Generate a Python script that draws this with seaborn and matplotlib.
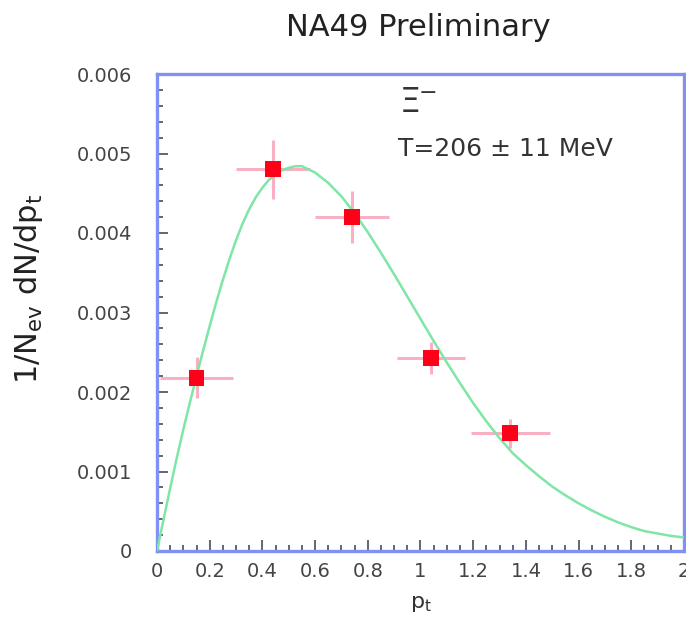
import numpy as np
import pandas as pd
import matplotlib
matplotlib.use("Agg")
import matplotlib.pyplot as plt
from matplotlib.ticker import MultipleLocator
import seaborn as sns

# ---- data ----
pt_points = [0.15, 0.44, 0.74, 1.04, 1.34]
dn_points = [0.00218, 0.00480, 0.00420, 0.00243, 0.00148]
pt_err = [0.14, 0.14, 0.14, 0.13, 0.15]
dn_err = [0.00026, 0.00037, 0.00033, 0.00020, 0.00018]

# fitted curve
fit_pt = [0.0, 0.025, 0.05, 0.075, 0.1, 0.125, 0.15, 0.175, 0.2, 0.225, 0.25,
          0.275, 0.3, 0.325, 0.35, 0.375, 0.4, 0.425, 0.45, 0.475, 0.5, 0.525,
          0.55, 0.6, 0.65, 0.7, 0.75, 0.8, 0.85, 0.9, 0.95, 1.0, 1.05, 1.1, 1.15,
          1.2, 1.25, 1.3, 1.35, 1.4, 1.45, 1.5, 1.55, 1.6, 1.65, 1.7, 1.75, 1.8,
          1.85, 1.9, 1.95, 2.0]
fit_dn = [0.0, 0.00040, 0.00079, 0.00117, 0.00153, 0.00187, 0.00220, 0.00252,
          0.00283, 0.00313, 0.00341, 0.00367, 0.00391, 0.00412, 0.00430, 0.00445,
          0.00457, 0.00467, 0.00474, 0.00479, 0.00482, 0.00484, 0.00484, 0.00476,
          0.00463, 0.00446, 0.00425, 0.00401, 0.00375, 0.00348, 0.00320, 0.00292,
          0.00264, 0.00237, 0.00211, 0.00186, 0.00163, 0.00142, 0.00123, 0.00108,
          0.00094, 0.00081, 0.00070, 0.00060, 0.00051, 0.00043, 0.00036, 0.00030,
          0.00025, 0.00022, 0.00019, 0.00017]

x_ticks = [0, 0.2, 0.4, 0.6, 0.8, 1.0, 1.2, 1.4, 1.6, 1.8, 2.0]
x_labels = ["0", "0.2", "0.4", "0.6", "0.8", "1", "1.2", "1.4", "1.6", "1.8", "2"]
y_ticks = [0, 0.001, 0.002, 0.003, 0.004, 0.005, 0.006]
y_labels = ["0", "0.001", "0.002", "0.003", "0.004", "0.005", "0.006"]

sns.set_style("ticks")
plt.rcParams["font.family"] = ["DejaVu Sans"]

fig = plt.figure(figsize=(6.86, 6.27), dpi=100)
ax = fig.add_axes([157/686, 1-551/627, (684-157)/686, (551-74)/627])

fit_df = pd.DataFrame({"pt": fit_pt, "dn": fit_dn})
pts_df = pd.DataFrame({"pt": pt_points, "dn": dn_points})

sns.lineplot(data=fit_df, x="pt", y="dn", ax=ax, color="#7fe6a6", lw=1.8,
             zorder=3, sort=True)
ax.errorbar(pt_points, dn_points, xerr=pt_err, yerr=dn_err, fmt="none",
            ecolor="#f7a3b8", elinewidth=2.2, capsize=0, alpha=0.85, zorder=2)
sns.scatterplot(data=pts_df, x="pt", y="dn", ax=ax, marker="s", s=130,
                color="#ff0018", edgecolor="none", zorder=4)

ax.set_xlim(0, 2)
ax.set_ylim(0, 0.006)
ax.set_xticks(x_ticks)
ax.set_xticklabels(x_labels)
ax.set_yticks(y_ticks)
ax.set_yticklabels(y_labels)
ax.xaxis.set_minor_locator(MultipleLocator(0.05))
ax.yaxis.set_minor_locator(MultipleLocator(0.0002))
ax.tick_params(which="major", direction="in", length=8, width=1.3, color="#55596a",
               labelsize=14, labelcolor="#444444")
ax.tick_params(axis="y", which="major", pad=18)
ax.tick_params(axis="x", which="major", pad=8)
ax.tick_params(which="minor", direction="in", length=4, width=1.3, color="#55596a")
ax.tick_params(axis="y", which="both", right=False)
ax.tick_params(axis="x", which="both", top=False)

for s in ax.spines.values():
    s.set_visible(True)
    s.set_color("#8191f2")
    s.set_linewidth(2.4)

ax.set_xlabel(r"p$_\mathregular{t}$", fontsize=16, color="#333333")
ax.xaxis.set_label_coords(0.5, -(594-551)/477)
ax.set_ylabel(r"1/N$_\mathregular{ev}$ dN/dp$_\mathregular{t}$", fontsize=22,
              color="#222222")
ax.yaxis.set_label_coords(-0.212, 0.55)

fig.text(418/686, 1-27/627, "NA49 Preliminary", ha="center", va="center",
         fontsize=22, color="#222222")
ax.text((400-157)/527, (551-86)/477, "\u039e", transform=ax.transAxes, ha="left",
        va="top", fontsize=24, color="#333333")
ax.text((419-157)/527, (551-83)/477, "\u2212", transform=ax.transAxes, ha="left",
        va="top", fontsize=16, color="#333333")
ax.text((398-157)/527, (551-149)/477, "T=206 \u00b1 11 MeV", transform=ax.transAxes,
        ha="left", va="center", fontsize=18, color="#333333")

fig.savefig("out.png", dpi=100, facecolor="white")
